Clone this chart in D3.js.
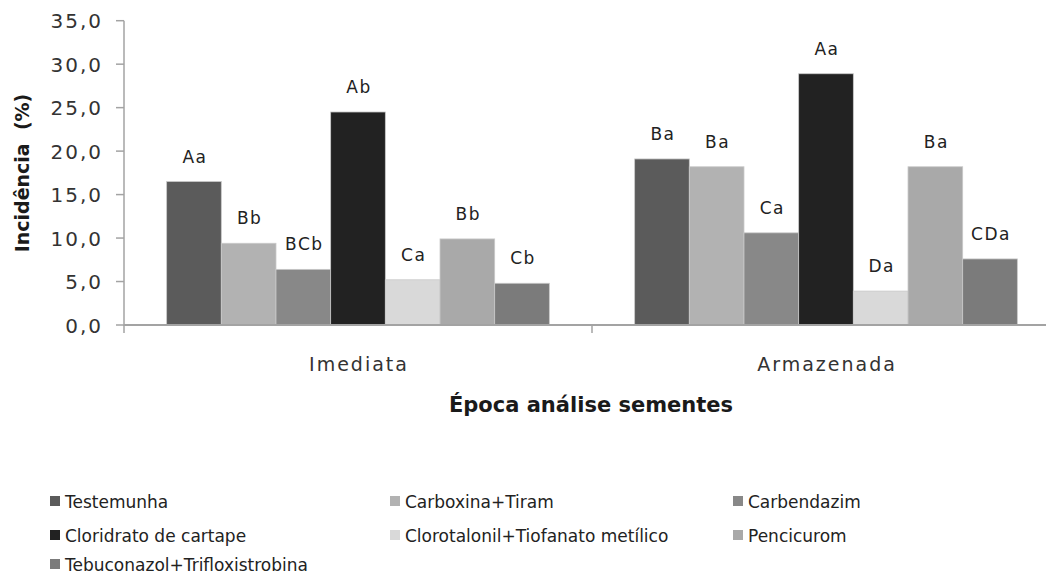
<!DOCTYPE html>
<html>
<head>
<meta charset="utf-8">
<script src="https://cdn.jsdelivr.net/npm/d3@7"></script>
<style>
  html, body { margin: 0; padding: 0; background: #fff; }
  text { font-family: "DejaVu Sans", Verdana, sans-serif; fill: #1a1a1a; }
</style>
</head>
<body>
<div id="chart"></div>
<script>
const width = 1046;
const height = 575;

// Data
const epocas = ["Imediata", "Armazenada"];
const tratamentos = [
  "Testemunha", "Carboxina+Tiram", "Carbendazim", "Cloridrato de cartape",
  "Clorotalonil+Tiofanato metílico", "Pencicurom", "Tebuconazol+Trifloxistrobina"
];
const imediata = [16.5, 9.4, 6.4, 24.5, 5.2, 9.9, 4.8];
const armazenada = [19.1, 18.2, 10.6, 28.9, 3.9, 18.2, 7.6];
const letrasImediata = ["Aa", "Bb", "BCb", "Ab", "Ca", "Bb", "Cb"];
const letrasArmazenada = ["Ba", "Ba", "Ca", "Aa", "Da", "Ba", "CDa"];
const yTicks = [0, 5, 10, 15, 20, 25, 30, 35];

const colors = ["#5b5b5b", "#b2b2b2", "#888888", "#222222", "#d9d9d9", "#a9a9a9", "#7b7b7b"];

const values = [imediata, armazenada];
const letras = [letrasImediata, letrasArmazenada];

const svg = d3.select("#chart").append("svg")
  .attr("width", width)
  .attr("height", height);

// plot area
const x0 = 124, yBottom = 325, yTop = 20.7;
const y = d3.scaleLinear().domain([0, 35]).range([yBottom, yTop]);

const xCat = d3.scaleBand().domain(epocas).range([x0, x0 + 2 * 468]).padding(0);
const xSer = d3.scaleBand().domain(tratamentos).range([0, xCat.bandwidth()])
  .paddingInner(0).paddingOuter(0.78);

const axisColor = "#a3a3a3";

// y axis
const yAxis = svg.append("g");
yAxis.append("line")
  .attr("x1", x0).attr("x2", x0)
  .attr("y1", y(35)).attr("y2", yBottom + 1)
  .attr("stroke", axisColor).attr("stroke-width", 1.5);
yAxis.selectAll("line.tick").data(yTicks).join("line")
  .attr("class", "tick")
  .attr("x1", x0 - 8).attr("x2", x0)
  .attr("y1", d => y(d)).attr("y2", d => y(d))
  .attr("stroke", axisColor).attr("stroke-width", 1.5);
yAxis.selectAll("text").data(yTicks).join("text")
  .attr("x", 103)
  .attr("y", d => y(d) + 7.5)
  .attr("text-anchor", "end")
  .style("font-size", "20px")
  .style("letter-spacing", "2px")
  .style("fill", "#333")
  .text(d => d3.format(".1f")(d).replace(".", ","));

// bars
const groups = svg.selectAll("g.grupo").data(epocas).join("g")
  .attr("class", "grupo")
  .attr("transform", d => `translate(${xCat(d)},0)`);

groups.selectAll("rect").data((d, i) => tratamentos.map((t, j) => ({ t, v: values[i][j], c: colors[j] })))
  .join("rect")
  .attr("x", d => xSer(d.t))
  .attr("y", d => y(d.v))
  .attr("width", xSer.bandwidth())
  .attr("height", d => yBottom - y(d.v))
  .attr("fill", d => d.c)
  .attr("stroke", "#c9c9c9")
  .attr("stroke-width", 0.8);

groups.selectAll("text").data((d, i) => tratamentos.map((t, j) => ({ t, v: values[i][j], l: letras[i][j] })))
  .join("text")
  .attr("x", d => xSer(d.t) + xSer.bandwidth() / 2 + 1)
  .attr("y", d => y(d.v) - 19)
  .attr("text-anchor", "middle")
  .style("font-size", "17px")
  .style("letter-spacing", "1.5px")
  .style("fill", "#222")
  .text(d => d.l);

// x axis
const xAxis = svg.append("g");
xAxis.append("line")
  .attr("x1", x0).attr("x2", width)
  .attr("y1", yBottom).attr("y2", yBottom)
  .attr("stroke", axisColor).attr("stroke-width", 2);
xAxis.selectAll("line.tick").data([x0, xCat("Armazenada")]).join("line")
  .attr("class", "tick")
  .attr("x1", d => d).attr("x2", d => d)
  .attr("y1", yBottom).attr("y2", yBottom + 8)
  .attr("stroke", axisColor).attr("stroke-width", 1.5);
xAxis.selectAll("text").data(epocas).join("text")
  .attr("x", d => xCat(d) + xCat.bandwidth() / 2 + 1)
  .attr("y", 371)
  .attr("text-anchor", "middle")
  .style("font-size", "19px")
  .style("letter-spacing", "2px")
  .style("fill", "#333")
  .text(d => d);

// axis titles
svg.append("text")
  .attr("x", 591)
  .attr("y", 412)
  .attr("text-anchor", "middle")
  .style("font-size", "21px")
  .style("font-weight", "bold")
  .text("Época análise sementes");

svg.append("text")
  .attr("transform", "translate(29,173) rotate(-90)")
  .attr("text-anchor", "middle")
  .style("font-size", "19px")
  .style("font-weight", "bold")
  .style("white-space", "pre")
  .text("Incidência  (%)");

// legend
const legendX = [50, 390, 733];
const legendY = [501, 535, 564];
const legend = svg.selectAll("g.legenda").data(tratamentos).join("g")
  .attr("class", "legenda")
  .attr("transform", (d, i) => `translate(${legendX[i % 3]},${legendY[Math.floor(i / 3)]})`);
legend.append("rect")
  .attr("x", 0).attr("y", -5)
  .attr("width", 10).attr("height", 10)
  .attr("fill", (d, i) => colors[i]);
legend.append("text")
  .attr("x", 15)
  .attr("y", 6.5)
  .style("font-size", "17px")
  .style("fill", "#222")
  .text(d => d);
</script>
</body>
</html>
